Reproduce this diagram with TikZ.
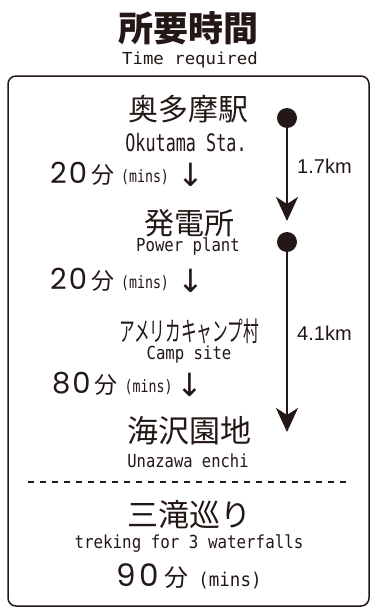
\documentclass[tikz,border=0pt]{standalone}
\usepackage{fontspec}
\usepackage{graphicx}
\usetikzlibrary{arrows.meta}
\newfontfamily\jp{Noto Sans CJK JP}
\newfontfamily\monof{DejaVu Sans Mono}
\newfontfamily\arialf{Liberation Sans}
\newfontfamily\digf{Poppins}
\newfontfamily\arrf{DejaVu Sans}
\newcommand\fsz[1]{\fontsize{#1}{#1}\selectfont}
\newcommand\lat[3]{\scalebox{#1}[1]{\fsz{#2}\monof #3}}
\newcommand\mins[2]{{\digf\fsz{29}#1\hspace{2pt}#2}\hspace{4pt}{\jp\fsz{23}分}}
\definecolor{ink}{HTML}{231815}
\begin{document}
\begin{tikzpicture}[x=1pt,y=-1pt,
  every node/.style={inner sep=0pt, text=ink},
  frame/.style={draw=ink, line width=1.5pt, rounded corners=8pt},
  sepline/.style={draw=ink, line width=1.5pt, dash pattern=on 6pt off 6pt},
  stopdot/.style={circle, fill=ink, minimum size=20pt, inner sep=0pt},
  route/.style={draw=ink, line width=2.5pt, -{Stealth[length=24pt,width=22pt,inset=7pt]}},
  minsline/.style={anchor=west}]
\useasboundingbox (0,0) rectangle (370,608);
\fill[white] (0,0) rectangle (370,608);

\node (title) at (188,28) {\jp\bfseries\fsz{35}所要時間};
\node (sub) at (190,60) {\lat{1.05}{16.5}{Time required}};

\draw[frame] (8,76) rectangle (369,606);

\node (okutama) at (188,109) {\jp\fsz{30}奥多摩駅};
\node (okutamaE) at (186,143) {\lat{0.70}{24}{Okutama Sta.}};
\node[minsline] (m1) at (50,174) {\mins{2}{0}\hspace{7pt}\raisebox{1pt}{\lat{0.78}{17}{(mins)}}\hspace{9pt}\raisebox{-3pt}{\arrf\fsz{32}↓}};

\node (hatsu) at (189,223) {\jp\fsz{30}発電所};
\node (hatsuE) at (188,246) {\lat{0.87}{18}{Power plant}};
\node[minsline] (m2) at (50,280) {\mins{2}{0}\hspace{7pt}\raisebox{1pt}{\lat{0.78}{17}{(mins)}}\hspace{9pt}\raisebox{-3pt}{\arrf\fsz{32}↓}};

\node (camp) at (189,331) {\scalebox{0.58}[1]{\jp\fsz{27}アメリカキャンプ村}};
\node (campE) at (189,355) {\lat{0.87}{18}{Camp site}};
\node[minsline] (m3) at (52,384) {\mins{8}{0}\hspace{7pt}\raisebox{1pt}{\lat{0.78}{17}{(mins)}}\hspace{4pt}\raisebox{-3pt}{\arrf\fsz{32}↓}};

\node (una) at (189,431) {\jp\fsz{31}海沢園地};
\node (unaE) at (188,461) {\lat{0.86}{18}{Unazawa enchi}};

\coordinate (dl) at (28,482);
\coordinate (dr) at (350,482);
\draw[sepline] (dl) -- (dr);

\node (santaki) at (189,515) {\jp\fsz{31}三滝巡り};
\node (santakiE) at (189,544) {\lat{0.88}{18}{treking for 3 waterfalls}};
\node (ninety) at (189,576) {{\digf\fsz{31}9\hspace{4pt}0}\hspace{5pt}{\jp\fsz{24}分}\hspace{10pt}\lat{0.92}{19}{(mins)}};

\node[stopdot] (d1) at (287,118) {};
\coordinate (t1) at (287,221);
\draw[route] (d1.center) -- (t1);
\node[stopdot] (d2) at (287,242) {};
\coordinate (t2) at (287,432);
\draw[route] (d2.center) -- (t2);

\node[anchor=west] (km1) at (297,166) {\arialf\fsz{20}1.7km};
\node[anchor=west] (km2) at (297,333) {\arialf\fsz{20}4.1km};
\end{tikzpicture}
\end{document}
